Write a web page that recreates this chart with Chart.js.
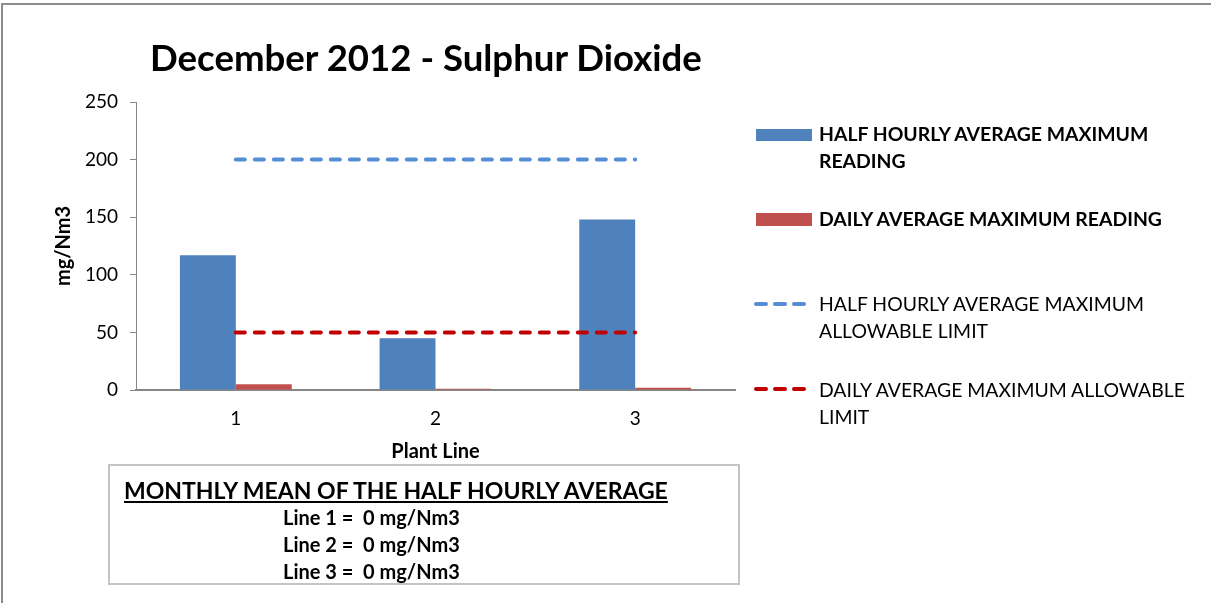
<!DOCTYPE html>
<html>
<head>
<meta charset="utf-8">
<script src="https://cdn.jsdelivr.net/npm/chart.js@4.4.1/dist/chart.umd.min.js"></script>
<style>
  body { margin: 0; width: 1211px; height: 603px; overflow: hidden; background: #fff; position: relative; font-family: Lato, sans-serif; color: #000; }
  #frame { position: absolute; left: 1px; top: 3px; width: 1300px; height: 700px; border-left: 2px solid #8c8c8c; border-top: 2px solid #8c8c8c; }
  #chartWrap { position: absolute; left: 0; top: 0; width: 1211px; height: 603px; }
  #title { position: absolute; left: 150px; top: 35px; font-size: 36.6px; font-weight: bold; line-height: 44px; white-space: nowrap; }
  .lg { position: absolute; left: 819px; font-size: 19.4px; line-height: 27px; white-space: nowrap; }
  .box { position: absolute; left: 756px; width: 56px; }
  .dash { position: absolute; left: 750px; width: 62px; height: 10px; }
  #note { position: absolute; left: 108px; top: 464px; width: 632px; height: 121px; box-sizing: border-box; border: 2px solid #c4c4c4; }
  #noteTitle { position: absolute; left: 124px; top: 476px; font-size: 23px; font-weight: bold; text-decoration: underline; line-height: 28px; white-space: nowrap; }
  .noteLine { position: absolute; left: 283px; font-size: 20px; font-weight: bold; line-height: 27px; white-space: pre; }
</style>
</head>
<body>
<div id="frame"></div>
<div id="chartWrap"><canvas id="so2Chart" width="1211" height="603"></canvas></div>
<div id="title">December 2012 - Sulphur Dioxide</div>

<div class="box" style="top:129px;height:12px;background:#4F81BD"></div>
<div class="lg" style="top:120px;font-weight:bold">HALF HOURLY AVERAGE MAXIMUM<br>READING</div>
<div class="box" style="top:213px;height:13px;background:#C0504D"></div>
<div class="lg" style="top:205px;font-weight:bold">DAILY AVERAGE MAXIMUM READING</div>
<svg class="dash" style="top:299px"><line x1="6" y1="5" x2="56" y2="5" stroke="#558ED5" stroke-width="4" stroke-linecap="round" stroke-dasharray="10 9"/></svg>
<div class="lg" style="top:290px">HALF HOURLY AVERAGE MAXIMUM<br>ALLOWABLE LIMIT</div>
<svg class="dash" style="top:384px"><line x1="6" y1="5" x2="56" y2="5" stroke="#C00000" stroke-width="4" stroke-linecap="round" stroke-dasharray="10 9"/></svg>
<div class="lg" style="top:376px">DAILY AVERAGE MAXIMUM ALLOWABLE<br>LIMIT</div>

<div id="note"></div>
<div id="noteTitle">MONTHLY MEAN OF THE HALF HOURLY AVERAGE</div>
<div class="noteLine" style="top:504px">Line 1 =  0 mg/Nm3</div>
<div class="noteLine" style="top:531px">Line 2 =  0 mg/Nm3</div>
<div class="noteLine" style="top:558px">Line 3 =  0 mg/Nm3</div>

<script>
const plantLines = ['1', '2', '3']
const halfHourlyMax = [117, 45, 148]
const dailyMax = [5, 1, 2]
const halfHourlyLimit = [200, 200, 200]
const dailyLimit = [50, 50, 50]
const yTicks = [0, 50, 100, 150, 200, 250]

const axisGrey = '#868686'

var ctx = document.getElementById('so2Chart')
new Chart(ctx, {
    type: 'bar',
    data: {
        labels: plantLines,
        datasets: [
            {
                type: 'line',
                label: 'HALF HOURLY AVERAGE MAXIMUM ALLOWABLE LIMIT',
                data: halfHourlyLimit,
                borderColor: '#558ED5',
                borderWidth: 4,
                borderDash: [9, 10],
                borderCapStyle: 'round',
                pointRadius: 0,
                pointHoverRadius: 0,
                fill: false,
                order: 0
            },
            {
                type: 'line',
                label: 'DAILY AVERAGE MAXIMUM ALLOWABLE LIMIT',
                data: dailyLimit,
                borderColor: '#C00000',
                borderWidth: 4,
                borderDash: [9, 10],
                borderCapStyle: 'round',
                pointRadius: 0,
                pointHoverRadius: 0,
                fill: false,
                order: 0
            },
            {
                label: 'HALF HOURLY AVERAGE MAXIMUM READING',
                data: halfHourlyMax,
                backgroundColor: '#4F81BD',
                barPercentage: 1,
                categoryPercentage: 0.56,
                order: 1
            },
            {
                label: 'DAILY AVERAGE MAXIMUM READING',
                data: dailyMax,
                backgroundColor: '#C0504D',
                barPercentage: 1,
                categoryPercentage: 0.56,
                order: 1
            }
        ]
    },
    options: {
        responsive: false,
        animation: false,
        events: [],
        layout: {
            padding: { left: 52, right: 476, top: 102, bottom: 139 }
        },
        plugins: {
            legend: { display: false },
            title: { display: false },
            tooltip: { enabled: false }
        },
        scales: {
            x: {
                grid: { display: true, drawOnChartArea: false, drawTicks: false },
                border: { display: true, color: axisGrey, width: 2 },
                ticks: { color: '#000', padding: 17, font: { family: 'Lato', size: 19 } },
                title: { display: true, text: 'Plant Line', color: '#000', padding: 0, font: { family: 'Lato', size: 20, weight: 'bold' } },
                afterFit: (scale) => { scale.height = 74 }
            },
            y: {
                min: yTicks[0],
                max: yTicks[yTicks.length - 1],
                afterBuildTicks: (scale) => { scale.ticks = yTicks.map(v => ({ value: v })) },
                grid: { display: true, drawOnChartArea: false, drawTicks: true, tickLength: 6, color: axisGrey },
                border: { display: true, color: axisGrey, width: 1 },
                ticks: { color: '#000', padding: 12, font: { family: 'Lato', size: 19 } },
                title: { display: true, text: 'mg/Nm3', color: '#000', padding: 0, font: { family: 'Lato', size: 20, weight: 'bold' } },
                afterFit: (scale) => { scale.width = 84 }
            }
        }
    }
})
</script>
</body>
</html>
